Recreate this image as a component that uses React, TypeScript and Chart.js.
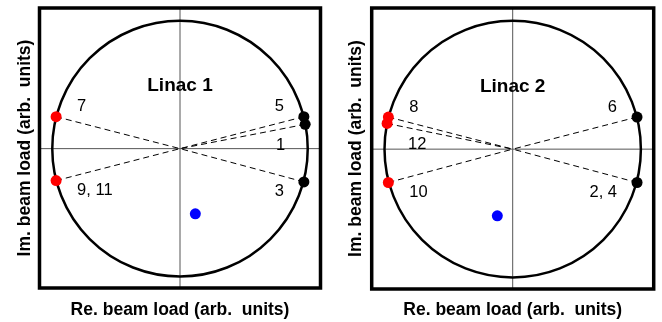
import { useEffect, useRef } from "react";
import { Chart, registerables } from "chart.js";

Chart.register(...registerables);

// Linac 1: beam-load vectors per bunch train (unit circle = full load)
const LINAC1_LABELS = ["1", "3", "5", "7", "9, 11"];
const LINAC1_RE = [0.98, 0.97, 0.97, -0.97, -0.97];
const LINAC1_IM = [0.19, -0.26, 0.25, 0.25, -0.25];
const LINAC1_BEAM_RE = [0.12];
const LINAC1_BEAM_IM = [-0.51];

// Linac 2
const LINAC2_LABELS = ["2, 4", "6", "8", "10", "12"];
const LINAC2_RE = [0.97, 0.97, -0.97, -0.97, -0.98];
const LINAC2_IM = [-0.26, 0.25, 0.25, -0.26, 0.2];
const LINAC2_BEAM_RE = [-0.12];
const LINAC2_BEAM_IM = [-0.52];

// vertical nudge of each number label (px, + is down)
const LINAC1_LABEL_SHIFT = [21, 10, -10, -10, 10];
const LINAC2_LABEL_SHIFT = [10, -10, -10, 10, 21];

const FONT = "'Liberation Sans', Arial, Helvetica, sans-serif";
const X_TITLE = "Re. beam load (arb.  units)";
const Y_TITLE = "Im. beam load (arb.  units)";

type PanelProps = {
  name: string;
  labels: string[];
  re: number[];
  im: number[];
  beamRe: number[];
  beamIm: number[];
  shift: number[];
  left: number;
  padRight: number;
  xTitlePad: { top: number; bottom: number };
  yTitlePad: { top: number; bottom: number };
};

function makeDiagramPlugin(p: PanelProps) {
  return {
    id: "beamLoadDiagram",
    beforeDatasetsDraw(chart: any) {
      const { ctx, chartArea, scales } = chart;
      const { left, right, top, bottom } = chartArea;
      const x = scales.x;
      const y = scales.y;
      const x0 = x.getPixelForValue(0);
      const y0 = y.getPixelForValue(0);
      ctx.save();
      // zero axes
      ctx.strokeStyle = "#555";
      ctx.lineWidth = 1;
      ctx.beginPath();
      ctx.moveTo(x0, top);
      ctx.lineTo(x0, bottom);
      ctx.moveTo(left, y0);
      ctx.lineTo(right, y0);
      ctx.stroke();
      // unit circle
      const rx = x.getPixelForValue(1) - x0;
      const ry = y0 - y.getPixelForValue(1);
      ctx.strokeStyle = "#000";
      ctx.lineWidth = 2.5;
      ctx.beginPath();
      ctx.ellipse(x0, y0, rx, ry, 0, 0, Math.PI * 2);
      ctx.stroke();
      ctx.restore();
    },
    afterDatasetsDraw(chart: any) {
      const { ctx, chartArea, scales } = chart;
      const { left, right, top, bottom } = chartArea;
      const x = scales.x;
      const y = scales.y;
      ctx.save();
      // frame
      ctx.strokeStyle = "#000";
      ctx.lineWidth = 3.5;
      ctx.strokeRect(left, top, right - left, bottom - top);
      // panel name
      ctx.fillStyle = "#000";
      ctx.textAlign = "center";
      ctx.textBaseline = "middle";
      ctx.font = `bold 19px ${FONT}`;
      ctx.fillText(p.name, x.getPixelForValue(0), y.getPixelForValue(0.49));
      // number labels beside each vector tip
      ctx.font = `16.5px ${FONT}`;
      p.labels.forEach((lab, i) => {
        const px = x.getPixelForValue(p.re[i]);
        const py = y.getPixelForValue(p.im[i]) + p.shift[i];
        if (p.re[i] > 0) {
          ctx.textAlign = "right";
          ctx.fillText(lab, px - 20, py);
        } else {
          ctx.textAlign = "left";
          ctx.fillText(lab, px + 21, py);
        }
      });
      ctx.restore();
    },
  };
}

function Panel(p: PanelProps) {
  const ref = useRef<HTMLCanvasElement | null>(null);

  useEffect(() => {
    if (!ref.current) return;
    const spokes = p.re.map((r, i) => ({
      type: "line" as const,
      data: [
        { x: r, y: p.im[i] },
        { x: 0, y: 0 },
      ],
      showLine: true,
      borderColor: "#000",
      borderWidth: 1,
      borderDash: [6, 4],
      pointRadius: 0,
      fill: false,
      order: 2,
    }));
    const chart = new Chart(ref.current, {
      type: "scatter",
      data: {
        datasets: [
          {
            data: p.re.map((r, i) => ({ x: r, y: p.im[i] })),
            pointRadius: 5.5,
            pointBorderWidth: 0,
            pointBackgroundColor: p.re.map((r) => (r > 0 ? "#000000" : "#ff0000")),
            order: 0,
          },
          {
            data: p.beamRe.map((r, i) => ({ x: r, y: p.beamIm[i] })),
            pointRadius: 5.5,
            pointBorderWidth: 0,
            pointBackgroundColor: "#0000ff",
            order: 1,
          },
          ...spokes,
        ] as any,
      },
      options: {
        animation: false,
        responsive: false,
        devicePixelRatio: 1,
        events: [],
        layout: {
          autoPadding: false,
          padding: { left: 0, right: p.padRight, top: 8, bottom: 0 },
        },
        plugins: {
          legend: { display: false },
          tooltip: { enabled: false },
        },
        scales: {
          x: {
            type: "linear",
            min: -1.1,
            max: 1.1,
            ticks: { display: false },
            grid: { display: false, drawTicks: false },
            border: { display: false },
            title: {
              display: true,
              text: X_TITLE,
              color: "#000",
              font: { family: FONT, size: 17.5, weight: "bold" },
              padding: p.xTitlePad,
            },
          },
          y: {
            type: "linear",
            min: -1.09,
            max: 1.1,
            ticks: { display: false },
            grid: { display: false, drawTicks: false },
            border: { display: false },
            title: {
              display: true,
              text: Y_TITLE,
              color: "#000",
              font: { family: FONT, size: 17.5, weight: "bold" },
              padding: p.yTitlePad,
            },
          },
        },
      },
      plugins: [makeDiagramPlugin(p)],
    });
    return () => chart.destroy();
  }, []);

  return (
    <canvas
      ref={ref}
      width={331}
      height={322}
      style={{ position: "absolute", left: p.left, top: 0, display: "block" }}
    />
  );
}

export default function App() {
  return (
    <div
      style={{
        position: "fixed",
        left: 0,
        top: 0,
        width: 662,
        height: 322,
        background: "#fff",
      }}
    >
      <Panel
        name="Linac 1"
        labels={LINAC1_LABELS}
        re={LINAC1_RE}
        im={LINAC1_IM}
        beamRe={LINAC1_BEAM_RE}
        beamIm={LINAC1_BEAM_IM}
        shift={LINAC1_LABEL_SHIFT}
        left={0}
        padRight={10.5}
        xTitlePad={{ top: 11.5, bottom: 1.5 }}
        yTitlePad={{ top: 14.5, bottom: 4 }}
      />
      <Panel
        name="Linac 2"
        labels={LINAC2_LABELS}
        re={LINAC2_RE}
        im={LINAC2_IM}
        beamRe={LINAC2_BEAM_RE}
        beamIm={LINAC2_BEAM_IM}
        shift={LINAC2_LABEL_SHIFT}
        left={331}
        padRight={8.3}
        xTitlePad={{ top: 10.5, bottom: 1.5 }}
        yTitlePad={{ top: 15, bottom: 4.7 }}
      />
    </div>
  );
}
